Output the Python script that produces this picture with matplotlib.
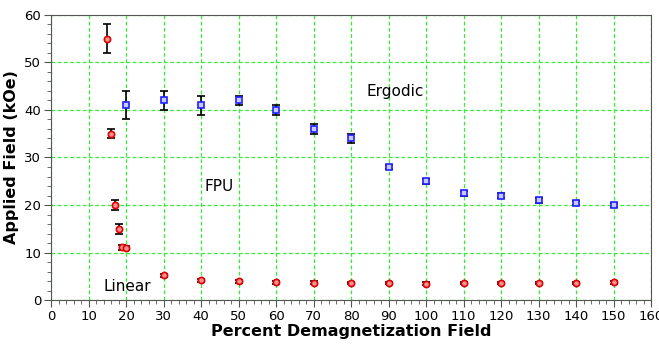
import numpy as np
from matplotlib import pyplot as plt
from matplotlib.ticker import MultipleLocator

# boundary FPU / Linear (red circles)
x_red = [15, 16, 17, 18, 19, 20, 30, 40, 50, 60, 70, 80, 90, 100, 110, 120, 130, 140, 150]
y_red = [55, 35, 20, 15, 11.1, 11, 5.2, 4.2, 4.0, 3.8, 3.7, 3.6, 3.6, 3.5, 3.6, 3.6, 3.6, 3.6, 3.8]
e_red = [3, 1, 1, 1, 0.5, 0.4, 0.3, 0.3, 0.3, 0.3, 0.3, 0.3, 0.3, 0.3, 0.3, 0.3, 0.3, 0.3, 0.3]

# boundary Ergodic / FPU (blue squares)
x_blue = [20, 30, 40, 50, 60, 70, 80, 90, 100, 110, 120, 130, 140, 150]
y_blue = [41, 42, 41, 42, 40, 36, 34, 28, 25, 22.5, 22, 21, 20.5, 20]
e_blue = [3, 2, 2, 1, 1, 1, 1, 0.5, 0.5, 0.5, 0.5, 0.5, 0.4, 0.4]

fig = plt.figure(figsize=(6.59, 3.45), dpi=100)
ax = fig.add_axes([0.0774, 0.130, 0.9106, 0.827])

ax.errorbar(x_red, y_red, yerr=e_red, fmt='o', ms=4.5, mfc='#ff9090', mec='#e00000',
            mew=1.2, ecolor='black', elinewidth=1.2, capsize=3, capthick=1.2, zorder=3)
ax.errorbar(x_blue, y_blue, yerr=e_blue, fmt='s', ms=5, mfc='#c8c8ff', mec='#2020ff',
            mew=1.2, ecolor='black', elinewidth=1.2, capsize=3, capthick=1.2, zorder=3)

ax.text(84, 43, 'Ergodic', fontsize=11)
ax.text(41, 23, 'FPU', fontsize=11)
ax.text(14, 2, 'Linear', fontsize=11)

ax.set_xlim(0, 160)
ax.set_ylim(0, 60)
ax.xaxis.set_major_locator(MultipleLocator(10))
ax.xaxis.set_minor_locator(MultipleLocator(2))
ax.yaxis.set_major_locator(MultipleLocator(10))
ax.yaxis.set_minor_locator(MultipleLocator(2))
ax.grid(True, which='major', color='#33ee33', linestyle=(0, (3, 2)), linewidth=0.9)
ax.set_axisbelow(True)

for s in ax.spines.values():
    s.set_color('#555555')
ax.tick_params(which='major', direction='out', length=5, color='#555555', labelsize=9.5, pad=2)
ax.tick_params(which='minor', direction='out', length=3, color='#555555')

ax.set_xlabel('Percent Demagnetization Field', fontsize=11.5, fontweight='bold')
ax.set_ylabel('Applied Field (kOe)', fontsize=11.5, fontweight='bold')
ax.xaxis.set_label_coords(0.5, -0.085)
ax.yaxis.set_label_coords(-0.053, 0.5)

plt.savefig('out.png', dpi=100)
